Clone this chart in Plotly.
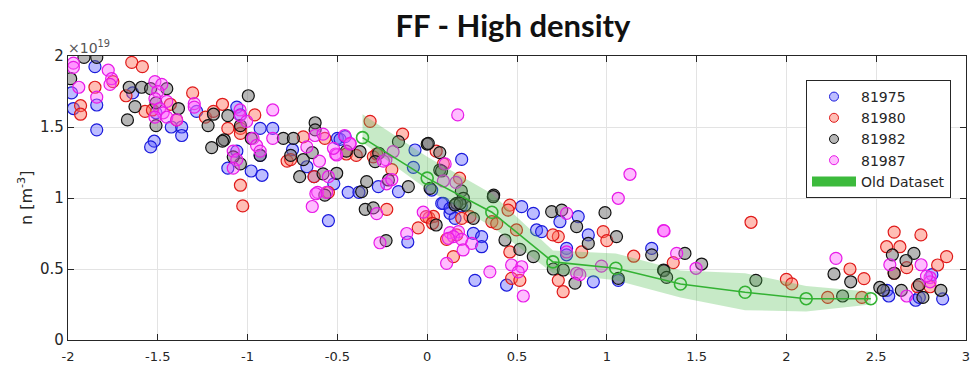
import plotly.graph_objects as go

# ---- data (density in units of 1e19 m^-3) ----
x_81975 = [-1.85, -1.98, -1.84, -1.97, -1.84, -1.64, -1.51, -1.425, -1.367, -1.367, -1.52, -1.54, -1.284,
           -1.06, -1.04, -0.93, -0.86, -0.93, -0.98, -0.92, -1.06, -1.11, -0.75, -0.67, -0.63, -0.50, -0.52,
           -0.44, -0.55, -0.38, -0.485, -0.457, -0.272, -0.16, -0.068, -0.077, 0.192, 0.025, 0.09, 0.19, 0.127,
           0.081, 0.127, 0.155, 0.257, 0.303, 0.303, 0.266, 0.442, 0.526, 0.591, 0.609, 0.637, 0.739, 0.776,
           0.841, 0.897, 0.925, 1.064, 1.25, 0.776, -0.108, 2.56, 2.57, 2.81, 2.87, 2.72, 2.74]
y_81975 = [1.925, 1.74, 1.655, 1.63, 1.48, 1.74, 1.60, 1.50, 1.50, 1.44, 1.40, 1.36, 1.61,
           1.64, 1.585, 1.49, 1.49, 1.30, 1.19, 1.16, 1.33, 1.21, 1.34, 1.22, 1.15, 1.42, 1.10,
           1.04, 0.84, 1.04, 1.413, 1.432, 1.08, 1.045, 1.338, 1.216, 1.272, 1.056, 0.962, 0.944, 0.892,
           0.962, 0.927, 0.857, 0.751, 0.728, 0.657, 0.42, 0.387, 0.939, 0.892, 0.775, 0.763, 0.833, 0.645,
           0.869, 0.74, 0.41, 0.42, 0.645, 0.60, 0.69, 0.35, 0.31, 0.46, 0.29, 0.28, 0.30]

x_81980 = [-1.645, -1.586, -1.75, -1.85, -1.93, -1.93, -1.677, -1.571, -1.53, -1.43, -1.395, -1.306, -1.235,
           -1.19, -1.14, -0.96, -1.04, -1.04, -1.11, -1.04, -1.027, -0.69, -0.57, -0.45, -0.395, -0.78, -0.76,
           -0.63, -0.55, -0.318, -0.137, 0.05, 0.09, 0.18, -0.197, -0.30, -0.281, -0.225, -0.05, 0.01, 0.035,
           0.108, 0.146, 0.164, 0.47, 0.516, 0.46, 0.73, 0.86, 0.98, 1.0, 1.15, 0.757, 0.73, 0.46, 0.45, 0.36,
           0.387, 0.497, 0.70, 0.238, 0.192, -0.006, 0.03, 1.37, 1.803, 2.0, 2.03, 2.354, 2.432, 2.23, 2.42,
           2.60, 2.749, 2.558, 2.632, 2.892, 2.842, 2.60, 2.67, 2.73, 2.80]
y_81980 = [1.955, 1.925, 1.82, 1.78, 1.65, 1.59, 1.72, 1.61, 1.62, 1.66, 1.55, 1.74, 1.57,
           1.61, 1.66, 1.585, 1.49, 1.455, 1.49, 1.09, 0.944, 1.43, 1.42, 1.31, 1.30, 1.26, 1.27,
           1.15, 1.04, 1.54, 1.45, 1.33, 1.24, 1.14, 1.20, 1.29, 1.31, 0.92, 0.79, 0.86, 0.87,
           0.709, 0.587, 0.74, 0.434, 0.42, 0.62, 0.728, 0.62, 0.763, 0.70, 0.59, 0.34, 0.42, 0.95, 0.915, 0.833,
           0.82, 0.775, 0.74, 0.869, 0.857, 0.869, 0.822, 0.545, 0.829, 0.427, 0.395, 0.50, 0.432, 0.30, 0.30,
           0.76, 0.74, 0.657, 0.657, 0.587, 0.528, 0.47, 0.51, 0.375, 0.375]

x_81982 = [-1.911, -1.84, -1.985, -1.659, -1.59, -1.54, -1.627, -1.669, -1.45, -1.51, -1.385, -1.51, -0.996,
           -1.19, -1.22, -1.20, -1.11, -1.13, -1.14, -1.04, -0.98, -0.93, -1.04, -1.08, -0.801, -0.745, -0.624,
           -0.624, -0.76, -0.69, -0.71, -0.64, -0.58, -0.45, -0.57, -0.345, -0.374, -0.504, -0.27, -0.16, 0.0,
           0.07, -0.29, 0.07, 0.006, 0.08, 0.19, 0.37, -0.365, -0.337, -0.216, -0.105, 0.016, 0.201, 0.21,
           0.164, -0.30, -0.229, 0.05, 0.155, 0.183, 0.257, 0.368, 0.433, 0.516, 0.591, 0.693, 0.749, 0.832,
           0.897, 0.99, 1.054, 0.702, 0.758, 0.823, 1.064, 1.25, 1.316, 1.435, 1.528, 1.318, 1.333, 1.83,
           2.265, 2.358, 2.313, 2.59, 2.71, 2.666, 2.60, 2.52, 2.54, 2.64, 2.74, 2.76, 2.86]
y_81982 = [1.99, 1.99, 1.84, 1.78, 1.78, 1.77, 1.643, 1.55, 1.77, 1.67, 1.63, 1.51, 1.72,
           1.59, 1.51, 1.355, 1.58, 1.41, 1.40, 1.51, 1.42, 1.30, 1.24, 1.29, 1.42, 1.42, 1.53,
           1.48, 1.30, 1.27, 1.15, 1.32, 1.17, 1.33, 1.02, 0.92, 1.326, 1.174, 1.315, 1.397, 1.38,
           1.32, 1.256, 1.197, 1.385, 1.19, 1.05, 1.02, 1.045, 1.115, 1.127, 1.08, 1.068, 0.998, 0.95,
           0.962, 0.93, 0.70, 0.81, 0.951, 0.962, 0.857, 1.009, 0.704, 0.638, 0.587, 0.904, 0.915, 0.798,
           0.68, 0.897, 0.728, 0.50, 0.493, 0.40, 0.434, 0.60, 0.493, 0.61, 0.535, 0.488, 0.441, 0.42,
           0.465, 0.41, 0.31, 0.60, 0.61, 0.56, 0.47, 0.37, 0.35, 0.35, 0.39, 0.30, 0.35]

x_81987 = [-1.97, -1.97, -1.776, -1.757, -1.766, -1.94, -1.84, -1.516, -1.478, -1.50, -1.516, -1.45, -1.49,
           -1.47, -1.45, -1.516, -1.395, -1.297, -1.297, -1.042, -1.042, -1.005, -0.97, -0.95, -0.93, -1.08,
           -1.06, -1.08, -0.86, -0.86, -0.625, -0.58, -0.67, -0.60, -0.51, -0.46, -0.43, -0.55, -0.61, -0.56,
           -0.64, -0.62, -0.429, -0.504, -0.522, -0.19, -0.23, 0.17, 0.10, 0.09, 0.16, -0.244, -0.226, -0.197,
           -0.281, -0.263, -0.114, -0.022, 0.127, 0.174, 0.146, 0.118, 0.192, 0.248, 0.20, 0.108, 0.349, 0.47,
           0.526, 0.507, 0.535, 0.776, 0.776, 0.832, 0.85, 0.97, 1.064, 1.316, 1.129, 1.319, 1.389, 1.497,
           2.276, 2.576, 2.75, 2.67, 2.80, 2.80, 2.78]
y_81987 = [1.95, 1.92, 1.90, 1.84, 1.80, 1.78, 1.71, 1.82, 1.80, 1.75, 1.70, 1.68, 1.63,
           1.60, 1.57, 1.57, 1.55, 1.665, 1.64, 1.62, 1.58, 1.54, 1.42, 1.37, 1.33, 1.33,
           1.27, 1.21, 1.62, 1.42, 1.44, 1.45, 1.36, 1.26, 1.31, 1.44, 1.38, 1.15, 1.04, 1.04,
           0.94, 1.03, 1.385, 1.303, 1.35, 1.326, 1.27, 1.585, 1.24, 1.12, 1.11, 1.26, 1.10, 1.13,
           0.89, 0.685, 0.75, 0.90, 0.756, 0.763, 0.728, 0.716, 0.709, 0.68, 0.634, 0.54, 0.48, 0.528,
           0.516, 0.48, 0.31, 0.62, 0.892, 0.47, 0.46, 0.52, 0.998, 0.77, 1.167, 0.768, 0.61, 0.505,
           0.575, 0.53, 0.53, 0.31, 0.44, 0.41, 0.45]

# Old dataset: mean line with band
old_x = [-0.36, 0.0, 0.36, 0.70, 1.05, 1.41, 1.77, 2.11, 2.47]
old_y = [1.425, 1.14, 0.90, 0.55, 0.505, 0.394, 0.336, 0.291, 0.291]
old_hi = [1.59, 1.29, 1.03, 0.63, 0.61, 0.49, 0.47, 0.38, 0.34]
old_lo = [1.39, 1.06, 0.80, 0.47, 0.42, 0.30, 0.21, 0.20, 0.25]

x_ticks = [-2, -1.5, -1, -0.5, 0, 0.5, 1, 1.5, 2, 2.5, 3]
y_ticks = [0, 0.5, 1, 1.5, 2]

series = [
    ("81975", x_81975, y_81975, "rgba(90,90,255,0.40)", "#1a1adc"),
    ("81980", x_81980, y_81980, "rgba(255,110,90,0.45)", "#e01a1a"),
    ("81982", x_81982, y_81982, "rgba(110,110,110,0.50)", "#111111"),
    ("81987", x_81987, y_81987, "rgba(255,90,255,0.40)", "#e81ae8"),
]

fig = go.Figure()
for name, xs, ys, fc, lc in series:
    fig.add_trace(go.Scatter(
        x=xs, y=ys, mode="markers", name=name, showlegend=False,
        marker=dict(symbol="circle", size=12, color=fc, line=dict(color=lc, width=1.2)),
    ))

band_fill = "rgba(80,190,80,0.32)"
fig.add_trace(go.Scatter(x=old_x, y=old_lo, mode="lines", line=dict(width=0, color=band_fill),
                         showlegend=False, hoverinfo="skip"))
fig.add_trace(go.Scatter(x=old_x, y=old_hi, mode="lines", line=dict(width=0, color=band_fill),
                         fill="tonexty", fillcolor=band_fill, showlegend=False, hoverinfo="skip"))
fig.add_trace(go.Scatter(x=old_x, y=old_y, mode="lines+markers", showlegend=False,
                         line=dict(color="#33b233", width=1.6),
                         marker=dict(symbol="circle-open", size=12, color="#33b233", line=dict(width=1.6))))

# legend-only entries (placed outside the visible axis range)
for name, xs, ys, fc, lc in series:
    fig.add_trace(go.Scatter(
        x=[10], y=[10], mode="markers", name=name,
        marker=dict(symbol="circle", size=9, color=fc, line=dict(color=lc, width=1)),
    ))
fig.add_trace(go.Scatter(x=[10, 11], y=[10, 10], mode="lines", name="Old Dataset",
                         line=dict(width=10, color="#3cba3c"), hoverinfo="skip"))

axis_common = dict(
    showgrid=True, gridcolor="#e3e3e3", gridwidth=1, zeroline=False,
    showline=True, linecolor="#262626", linewidth=1.2, mirror="ticks",
    ticks="inside", ticklen=6, tickcolor="#262626", tickwidth=1, automargin=False,
)

fig.update_xaxes(range=[-2, 3], tickvals=x_ticks, ticktext=[f"{v:g}" for v in x_ticks],
                 ticklabelstandoff=4,
                 tickfont=dict(family="DejaVu Sans", size=13, color="#262626"), **axis_common)
fig.update_yaxes(range=[0, 2], tickvals=y_ticks, ticktext=[f"{v:g}" for v in y_ticks],
                 tickfont=dict(family="DejaVu Sans", size=15, color="#262626"), **axis_common)

fig.update_layout(
    width=980, height=365,
    margin=dict(l=68, r=14, t=56, b=25),
    paper_bgcolor="white", plot_bgcolor="white",
    title=dict(text="<b>FF - High density</b>", x=513/980, xref="container", xanchor="center",
               y=1 - 26/365, yref="container", yanchor="middle",
               font=dict(family="Lato", size=31, color="#111111")),
    legend=dict(x=(806-68)/898, y=(340-80)/284, xanchor="left", yanchor="top",
                bgcolor="white", bordercolor="#262626", borderwidth=1,
                font=dict(family="DejaVu Sans", size=14, color="#262626"),
                tracegroupgap=0, traceorder="normal", itemwidth=44,
                itemsizing="trace"),
    annotations=[
        dict(text="×10<sup>19</sup>", xref="paper", yref="paper", x=0, y=1, xanchor="left",
             yanchor="bottom", showarrow=False, xshift=-2, yshift=-2,
             font=dict(family="DejaVu Sans", size=14, color="#555555")),
        dict(text="n [m<sup>-3</sup>]", xref="paper", yref="paper", x=(25-68)/898, y=0.5,
             xanchor="center", yanchor="middle", textangle=-90, showarrow=False,
             font=dict(family="DejaVu Sans", size=16, color="#262626")),
    ],
)

fig.write_html("out.html")
